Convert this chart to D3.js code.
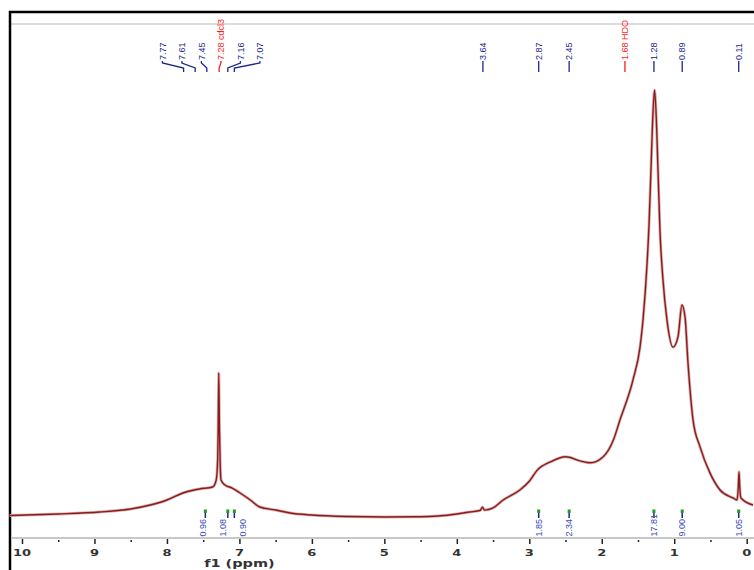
<!DOCTYPE html>
<html>
<head>
<meta charset="utf-8">
<script src="https://cdn.jsdelivr.net/npm/d3@7"></script>
<style>
  body { margin: 0; background: #fff; }
  svg { display: block; }
</style>
</head>
<body>
<div id="chart"></div>
<script>
// spectrum trace (ppm, relative intensity, tallest peak = 100)
var tracePpm = [10.17, 9.5, 8.93, 8.5, 8.23, 8.0, 7.78, 7.55, 7.37, 7.32, 7.30, 7.293, 7.285, 7.275, 7.265, 7.254,
  7.2, 7.10, 6.99, 6.85, 6.72, 6.5, 6.30, 6.0, 5.5, 5.0, 4.5, 4.0, 3.82, 3.68, 3.645, 3.62, 3.5, 3.36, 3.13, 3.0,
  2.89, 2.71, 2.50, 2.29, 2.16, 1.98, 1.84, 1.748, 1.569, 1.472, 1.431, 1.376, 1.348, 1.321, 1.300, 1.272, 1.252,
  1.224, 1.197, 1.155, 1.100, 1.017, 0.948, 0.893, 0.851, 0.810, 0.741, 0.644, 0.506, 0.368, 0.189, 0.134, 0.115,
  0.106, 0.097, 0.079, -0.087];
var traceInt = [1.05, 1.4, 1.86, 2.56, 3.49, 4.65, 6.28, 7.21, 7.67, 9.3, 14, 20.9, 34.2, 20.9, 13, 9.3,
  8.14, 7.44, 6.28, 4.65, 3.02, 2.33, 1.63, 1.16, 0.81, 0.7, 0.75, 1.4, 1.86, 2.2, 3.0, 2.3, 2.8, 4.65, 6.98, 9.0,
  11.6, 13.5, 14.7, 13.7, 13.3, 14.7, 18.6, 23.3, 32.6, 40.2, 46.5, 59.3, 68.6, 81.4, 91.9, 100, 95.3,
  81.4, 67.4, 55.8, 46.5, 40.2, 42.6, 50.0, 47.2, 36.5, 23.3, 17.0, 10.9, 6.98, 5.12, 4.65, 8,
  11.2, 8, 5.12, 3.49];

// peak picking labels
var peakPpm = [7.77, 7.61, 7.45, 7.28, 7.16, 7.07, 3.64, 2.87, 2.45, 1.68, 1.28, 0.89, 0.11];
var peakText = ["7.77", "7.61", "7.45", "7.28 cdcl3", "7.16", "7.07", "3.64", "2.87", "2.45", "1.68 HDO", "1.28", "0.89", "0.11"];
var peakSolvent = [false, false, false, true, false, false, false, false, false, true, false, false, false];

// integrals
var integralPpm = [7.47, 7.16, 7.07, 2.87, 2.45, 1.28, 0.89, 0.11];
var integralText = ["0.96", "1.08", "0.90", "1.85", "2.34", "17.81", "9.00", "1.05"];

var xTicks = [10, 9, 8, 7, 6, 5, 4, 3, 2, 1, 0];
var xMinorTicks = [9.5, 8.5, 7.5, 6.5, 5.5, 4.5, 3.5, 2.5, 1.5, 0.5];

var svgWidth = 754;
var svgHeight = 570;

var svg = d3.select("#chart")
    .append("svg")
    .attr("width", svgWidth)
    .attr("height", svgHeight);

var x = d3.scaleLinear().domain([10, 0]).range([22, 746.7]);
var y = d3.scaleLinear().domain([0, 100]).range([520, 90]);

// frame
svg.append("line").attr("x1", 10).attr("x2", svgWidth).attr("y1", 24).attr("y2", 24)
    .attr("stroke", "#dcdcdc").attr("stroke-width", 2);
svg.append("line").attr("x1", 9).attr("x2", svgWidth).attr("y1", 12).attr("y2", 12)
    .attr("stroke", "#000").attr("stroke-width", 2.5);
svg.append("line").attr("x1", 10).attr("x2", 10).attr("y1", 11).attr("y2", svgHeight)
    .attr("stroke", "#000").attr("stroke-width", 2.5);

// axis
var axisY = 538;
svg.append("line").attr("x1", 11).attr("x2", svgWidth).attr("y1", axisY).attr("y2", axisY)
    .attr("stroke", "#c8c8c8").attr("stroke-width", 2);

var axisG = svg.append("g").attr("transform", `translate(0, ${axisY + 1})`);
axisG.call(d3.axisBottom(x).tickValues(xTicks).tickSize(5).tickFormat(""))
    .call(g => g.select(".domain").remove());
axisG.selectAll(".tick line").attr("stroke", "#222").attr("stroke-width", 1.5);

var minorG = svg.append("g").attr("transform", `translate(0, ${axisY + 2})`);
minorG.call(d3.axisBottom(x).tickValues(xMinorTicks).tickSize(2).tickFormat(""))
    .call(g => g.select(".domain").remove());
minorG.selectAll(".tick line").attr("stroke", "#222").attr("stroke-width", 1.5);

// tick labels (wide squat look of the original)
svg.selectAll(".xlab")
    .data(xTicks)
    .enter()
    .append("text")
    .attr("class", "xlab")
    .attr("transform", d => `translate(${x(d)}, 555.5) scale(1.45, 1)`)
    .attr("text-anchor", "middle")
    .attr("font-family", "DejaVu Sans, sans-serif")
    .attr("font-weight", "bold")
    .attr("font-size", "9px")
    .attr("fill", "#333")
    .text(d => d);

svg.append("text")
    .attr("transform", `translate(${x(7)}, 566.5) scale(1.45, 1)`)
    .attr("text-anchor", "middle")
    .attr("font-family", "DejaVu Sans, sans-serif")
    .attr("font-weight", "bold")
    .attr("font-size", "10px")
    .attr("fill", "#333")
    .text("f1 (ppm)");

// spectrum
var trace = tracePpm.map((p, i) => ({ ppm: p, v: traceInt[i] }))
    .sort((a, b) => b.ppm - a.ppm);
var line = d3.line()
    .x(d => x(d.ppm))
    .y(d => y(d.v))
    .curve(d3.curveMonotoneX);

svg.append("path")
    .datum(trace)
    .attr("fill", "none")
    .attr("stroke", "#d9b3b3")
    .attr("stroke-width", 3)
    .attr("d", line);
svg.append("path")
    .datum(trace)
    .attr("fill", "none")
    .attr("stroke", "#8b1a1a")
    .attr("stroke-width", 1.4)
    .attr("d", line);

// spread labels so they don't overlap
function spread(pos, gap) {
    var out = pos.slice();
    var moved = true;
    var iter = 0;
    while (moved && iter < 300) {
        moved = false;
        iter++;
        for (var i = 0; i < out.length - 1; i++) {
            var d = out[i + 1] - out[i];
            if (d < gap - 0.01) {
                var push = (gap - d) / 2;
                out[i] -= push;
                out[i + 1] += push;
                moved = true;
            }
        }
    }
    return out;
}

// peak labels
var peakPx = peakPpm.map(p => x(p));
var peakLabelPx = spread(peakPx, 19.5);
var peaks = peakPpm.map((p, i) => ({
    text: peakText[i], px: peakPx[i], lx: peakLabelPx[i], solvent: peakSolvent[i]
}));

var peakG = svg.append("g");
peakG.selectAll("text")
    .data(peaks)
    .enter()
    .append("text")
    .attr("transform", d => `translate(${d.lx}, 60) rotate(-90)`)
    .attr("dy", "0.35em")
    .attr("text-anchor", "start")
    .attr("font-family", "Liberation Sans Narrow, Arial Narrow, Liberation Sans, sans-serif")
    .attr("font-size", "9px")
    .attr("fill", d => d.solvent ? "#ff1a1a" : "#1c2590")
    .text(d => d.text);

peakG.selectAll("polyline")
    .data(peaks)
    .enter()
    .append("polyline")
    .attr("points", d => [[d.lx, 61], [d.lx, 63], [d.px, 68], [d.px, 72]].join(" "))
    .attr("fill", "none")
    .attr("stroke", d => d.solvent ? "#ff1a1a" : "#1c2590")
    .attr("stroke-width", 1.3);

// integrals
var intPx = integralPpm.map(p => x(p));
var intLabelPx = spread(intPx, 20);
var integrals = integralPpm.map((p, i) => ({ text: integralText[i], px: intPx[i], lx: intLabelPx[i] }));

var intG = svg.append("g");
intG.selectAll("line.stem")
    .data(integrals)
    .enter()
    .append("line")
    .attr("class", "stem")
    .attr("x1", d => d.px).attr("x2", d => d.px)
    .attr("y1", 512).attr("y2", 518)
    .attr("stroke", "#1c2590").attr("stroke-width", 1.5);
intG.selectAll("rect")
    .data(integrals)
    .enter()
    .append("rect")
    .attr("x", d => d.px - 1.5)
    .attr("y", 509.5)
    .attr("width", 3)
    .attr("height", 3.5)
    .attr("fill", "#1aa01a");
intG.selectAll("text")
    .data(integrals)
    .enter()
    .append("text")
    .attr("transform", d => `translate(${d.lx}, 536.5) rotate(-90)`)
    .attr("dy", "0.35em")
    .attr("text-anchor", "start")
    .attr("font-family", "Liberation Sans Narrow, Arial Narrow, Liberation Sans, sans-serif")
    .attr("font-size", "9px")
    .attr("fill", "#3848b8")
    .text(d => d.text);
</script>
</body>
</html>
